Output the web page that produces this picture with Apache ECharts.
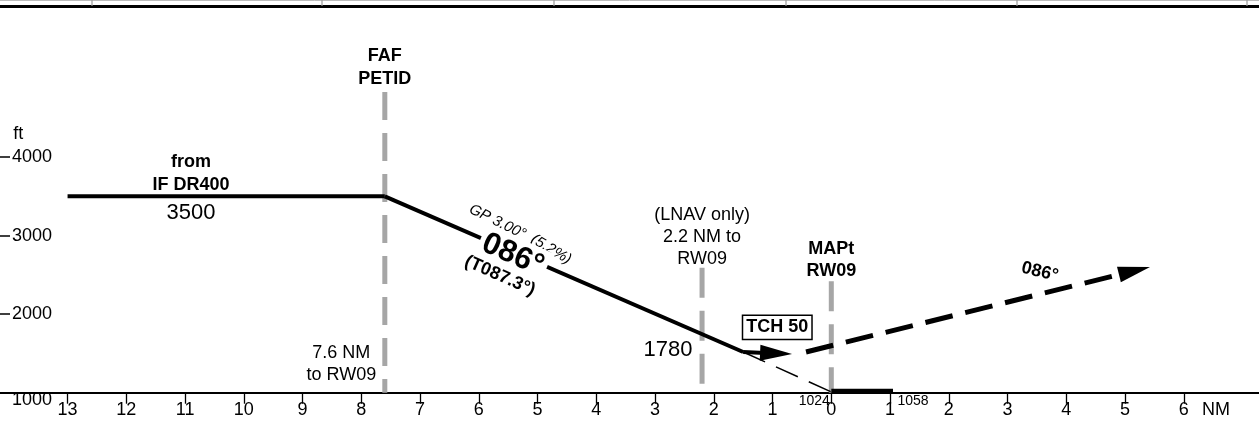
<!DOCTYPE html>
<html><head><meta charset="utf-8">
<script src="https://cdn.jsdelivr.net/npm/echarts@6/dist/echarts.min.js"></script>
<style>html,body{margin:0;padding:0;background:#fff}#c{width:1259px;height:421px}</style>
</head><body><div id="c"></div>
<script>
// distances in NM (negative = before threshold), altitudes in ft
const xTicks = [-13,-12,-11,-10,-9,-8,-7,-6,-5,-4,-3,-2,-1,0,1,2,3,4,5,6];
const yTicks = [1000,2000,3000,4000];
const levelSeg = [[-13,3500],[-7.6,3500]];
const descentSeg = [[-7.6,3500],[-1.5,1518]];
const glideExt = [[-1.5,1518],[0,1010]];
const runway = [[0,1020],[1.05,1020]];
const fafLine = [[-7.6,4830],[-7.6,1000]];
const lnavLine = [[-2.2,2590],[-2.2,1000]];
const maptLine = [[0,2420],[0,1000]];
const tchArrow = [[-1.5,1518],[-0.94,1500]];
const missedArrow = [[-0.43,1518],[5.16,2553]];
const notes = [
  {t:'ft', at:[-13.84,4296], fs:18},
  {t:'FAF\nPETID', at:[-7.6,5143], fs:18, b:true, lh:23},
  {t:'from\nIF DR400', at:[-10.9,3793], fs:18, b:true, lh:23},
  {t:'3500', at:[-10.9,3290], fs:22},
  {t:'(LNAV only)\n2.2 NM to\nRW09', at:[-2.2,2984], fs:18, lh:22},
  {t:'MAPt\nRW09', at:[0,2691], fs:18, b:true, lh:22},
  {t:'TCH 50', at:[-0.92,1831], fs:18, b:true, box:true},
  {t:'1780', at:[-2.78,1544], fs:22},
  {t:'7.6 NM\nto RW09', at:[-8.34,1366], fs:18, lh:22},
  {t:'1024', at:[-0.29,894], fs:14},
  {t:'1058', at:[1.39,894], fs:14},
  {t:'NM', at:[6.55,780], fs:18},
  {t:'086°', at:[3.55,2538], fs:18, b:true, r:14},
  {t:'GP 3.00°', at:[-5.68,3175], fs:15, i:true, r:26},
  {t:'(5.2%)', at:[-4.77,2825], fs:15, i:true, r:31},
  {t:'086°', at:[-5.42,2754], fs:31, b:true, r:24, bg:true},
  {t:'(T087.3°)', at:[-5.64,2487], fs:18, b:true, r:24}
];
const FONT = '"Liberation Sans", Arial, sans-serif';
const gray = '#a6a6a6';
function lineS(data, w, type, color) {
  return {type:'line', data, symbol:'none', silent:true, clip:false,
    lineStyle:{width:w, color:color||'#000', type:type||'solid', cap:'butt'}, z:3};
}
function arrowS(pts, w, dash) {
  return {type:'line', data:[], silent:true,
    markLine:{silent:true, animation:false, symbol:['none','triangle'], symbolSize:[16,32],
      label:{show:false}, lineStyle:{color:'#000', width:w, type:dash||'solid', cap:'butt'},
      itemStyle:{color:'#000'}, emphasis:{disabled:true},
      data:[[{coord:pts[0]},{coord:pts[1]}]]}, z:4};
}
const noteData = notes.map(n => ({
  value: n.at,
  label: {show:true, position:'inside', formatter:n.t, fontSize:n.fs, fontFamily:FONT,
    fontWeight:n.b?'bold':'normal', fontStyle:n.i?'italic':'normal', color:'#000',
    lineHeight:n.lh||n.fs*1.15, align:'center', verticalAlign:'middle',
    rotate: n.r ? -n.r : 0,
    backgroundColor: (n.box||n.bg) ? '#fff' : 'transparent',
    borderColor: n.box ? '#000' : 'transparent', borderWidth: n.box ? 1.5 : 0,
    padding: n.box ? [2,3,0,3] : (n.bg ? [0,4] : 0)}
}));
const chart = echarts.init(document.getElementById('c'), null, {renderer:'canvas'});
chart.setOption({
  animation:false,
  backgroundColor:'#fff',
  grid:{left:0, right:0, top:0, bottom:28.3},
  xAxis:{type:'value', min:-14.15, max:7.28,
    axisLine:{show:true, onZero:false, lineStyle:{color:'#000', width:1.8}},
    axisTick:{show:true, customValues:xTicks, length:11, lineStyle:{color:'#000', width:1.3}},
    axisLabel:{customValues:xTicks, formatter:v=>String(Math.abs(v)), fontSize:18, fontFamily:FONT, color:'#000', margin:8},
    splitLine:{show:false}},
  yAxis:{type:'value', min:1000, max:6000,
    axisLine:{show:false, onZero:false},
    axisTick:{show:true, inside:true, customValues:yTicks, length:10, lineStyle:{color:'#000', width:1.5}},
    axisLabel:{inside:true, customValues:yTicks, margin:12, fontSize:18, fontFamily:FONT, color:'#000',
      formatter:v => v===1000 ? '{lo|1000}' : String(v),
      rich:{lo:{fontSize:18, fontFamily:FONT, color:'#000', padding:[15,0,0,0]}}},
    splitLine:{show:false}},
  graphic:[
    {type:'rect', shape:{x:0,y:5,width:1259,height:3}, style:{fill:'#000'}, silent:true},
    {type:'line', shape:{x1:0,y1:0.5,x2:1259,y2:0.5}, style:{stroke:'#bbb',lineWidth:1}, silent:true},
    ...[92,322,554,786,1017,1247].map(x=>({type:'line', shape:{x1:x,y1:0,x2:x,y2:6}, style:{stroke:'#999',lineWidth:1.2}, silent:true}))
  ],
  series:[
    lineS(fafLine, 5, [28,13], gray),
    lineS(lnavLine, 5, [30,13], gray),
    lineS(maptLine, 5, [30,13], gray),
    lineS(levelSeg, 4),
    lineS(descentSeg, 4),
    lineS(glideExt, 1.5, [24,12]),
    lineS(runway, 5),
    arrowS(tchArrow, 4),
    arrowS(missedArrow, 5, [28,13]),
    {type:'scatter', data:noteData, symbol:'circle', symbolSize:1, clip:false, silent:true,
      itemStyle:{color:'rgba(0,0,0,0)', opacity:1}, z:10}
  ]
});
</script></body></html>
